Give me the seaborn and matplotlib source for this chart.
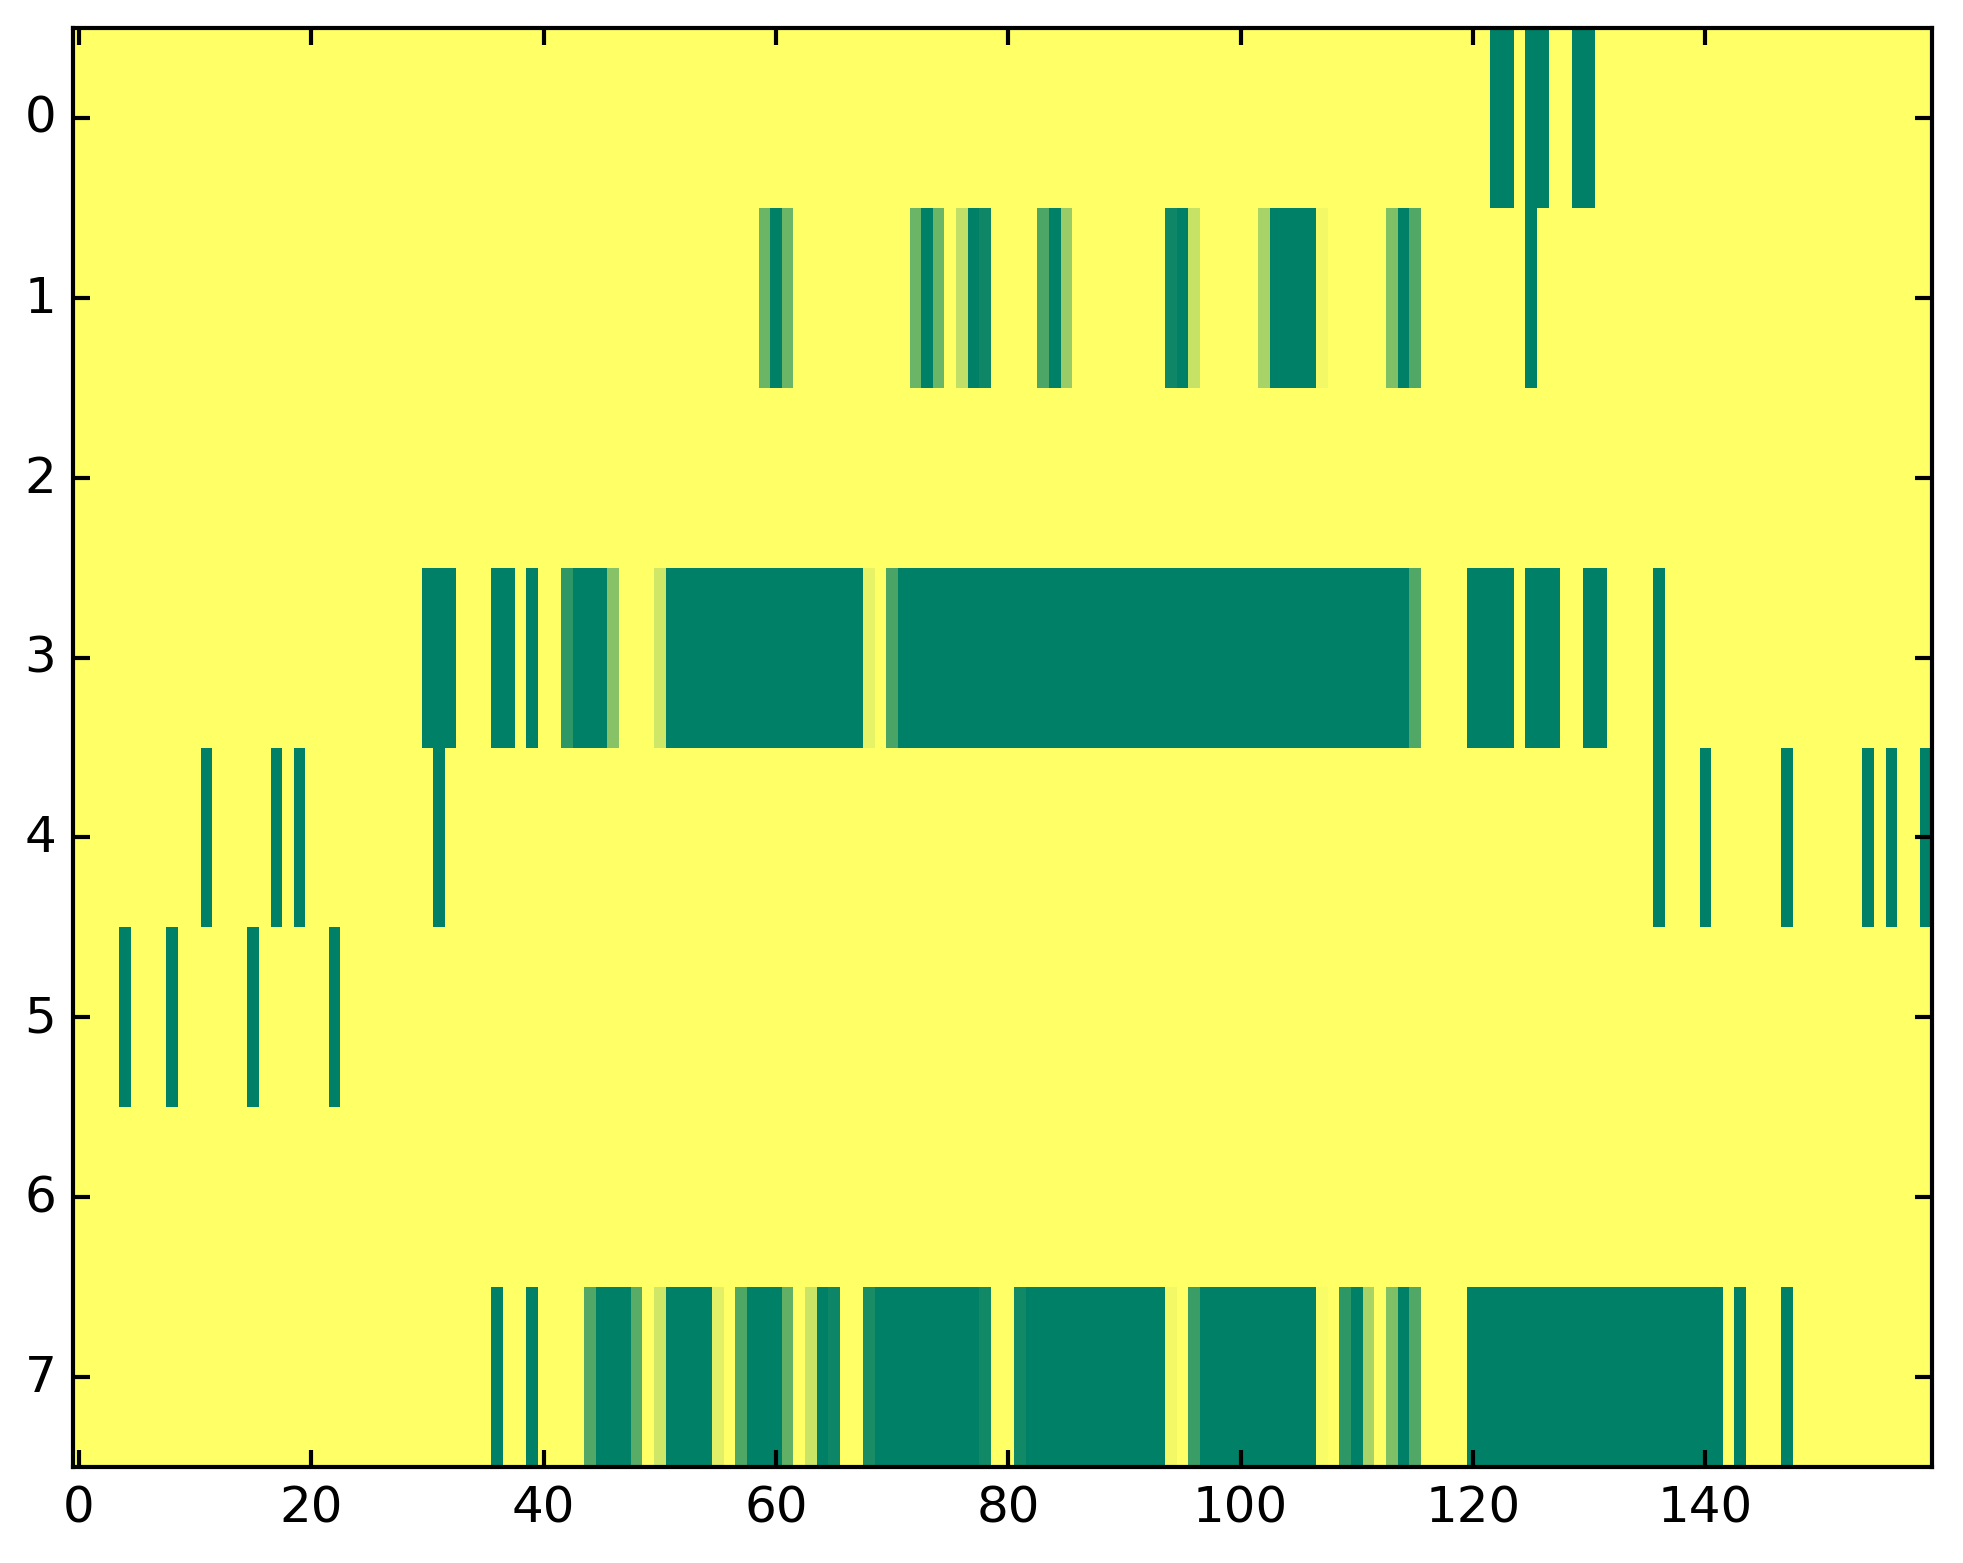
import numpy as np
import pandas as pd
import seaborn as sns
import matplotlib
matplotlib.use('Agg')
import matplotlib.pyplot as plt

N_COLS = 160

# Each row: runs of (first column, last column, value); the rest of the row is 0
row0 = [(122, 123, 1), (125, 126, 1), (129, 130, 1)]
row1 = [(59, 59, .58), (60, 60, 1), (61, 61, .58), (72, 72, .58), (73, 73, 1),
        (74, 74, .58), (76, 76, .25), (77, 77, 1), (78, 78, .94), (83, 83, .7),
        (84, 84, 1), (85, 85, .4), (94, 94, .94), (95, 95, 1), (96, 96, .22),
        (102, 102, .34), (103, 106, 1), (107, 107, .05), (113, 113, .5),
        (114, 114, 1), (115, 115, .68), (125, 125, 1)]
row2 = []
row3 = [(30, 32, 1), (36, 37, 1), (39, 39, 1), (42, 42, .82), (43, 45, 1),
        (46, 46, .47), (50, 50, .19), (51, 67, 1), (68, 68, .1), (70, 70, .71),
        (71, 114, 1), (115, 115, .68), (120, 123, 1), (125, 127, 1),
        (130, 131, 1), (136, 136, 1)]
row4 = [(11, 11, 1), (17, 17, 1), (19, 19, 1), (31, 31, 1), (136, 136, 1),
        (140, 140, 1), (147, 147, 1), (154, 154, 1), (156, 156, 1), (159, 159, 1)]
row5 = [(4, 4, 1), (8, 8, 1), (15, 15, 1), (22, 22, 1)]
row6 = []
row7 = [(36, 36, 1), (39, 39, 1), (44, 44, .68), (45, 47, 1), (48, 48, .65),
        (50, 50, .19), (51, 54, 1), (55, 55, .12), (57, 57, .69), (58, 60, 1),
        (61, 61, .62), (63, 63, .21), (64, 64, 1), (65, 65, .95), (68, 68, .9),
        (69, 77, 1), (78, 78, .93), (81, 81, .93), (82, 93, 1), (94, 94, .05),
        (96, 96, .77), (97, 106, 1), (107, 107, .03), (109, 109, .82),
        (110, 110, 1), (111, 111, .34), (113, 113, .5), (114, 114, 1),
        (115, 115, .68), (120, 141, 1), (143, 143, 1), (147, 147, 1)]

rows = [row0, row1, row2, row3, row4, row5, row6, row7]
x_ticks = [0, 20, 40, 60, 80, 100, 120, 140]
y_ticks = [0, 1, 2, 3, 4, 5, 6, 7]


def build_matrix(rows, n_cols):
    mat = np.zeros((len(rows), n_cols))
    for r, runs in enumerate(rows):
        for first, last, val in runs:
            mat[r, first:last + 1] = val
    return pd.DataFrame(mat)


plt.rcParams['font.family'] = 'DejaVu Sans'
plt.rcParams['font.size'] = 12

fig = plt.figure(figsize=(1963 / 300, 1564 / 300), dpi=300)
ax = fig.add_axes([73 / 1963, 1 - 1468 / 1564, (1932 - 73) / 1963, (1468 - 29) / 1564])

data = build_matrix(rows, N_COLS)
sns.heatmap(data, cmap='summer_r', vmin=0, vmax=1, cbar=False, ax=ax)

# classic look: full frame, inward ticks on all sides
for side in ['left', 'right', 'top', 'bottom']:
    ax.spines[side].set_visible(True)
    ax.spines[side].set_linewidth(1.0)
    ax.spines[side].set_color('black')

ax.set_xticks([t + 0.5 for t in x_ticks])
ax.set_xticklabels([str(t) for t in x_ticks], rotation=0)
ax.set_yticks([t + 0.5 for t in y_ticks])
ax.set_yticklabels([str(t) for t in y_ticks], rotation=0, va='center')
ax.tick_params(direction='in', length=4, width=1, top=True, right=True,
               labeltop=False, labelright=False, labelsize=12, pad=4, colors='black')
ax.set_xlabel('')
ax.set_ylabel('')

fig.savefig('out.png', dpi=300)
